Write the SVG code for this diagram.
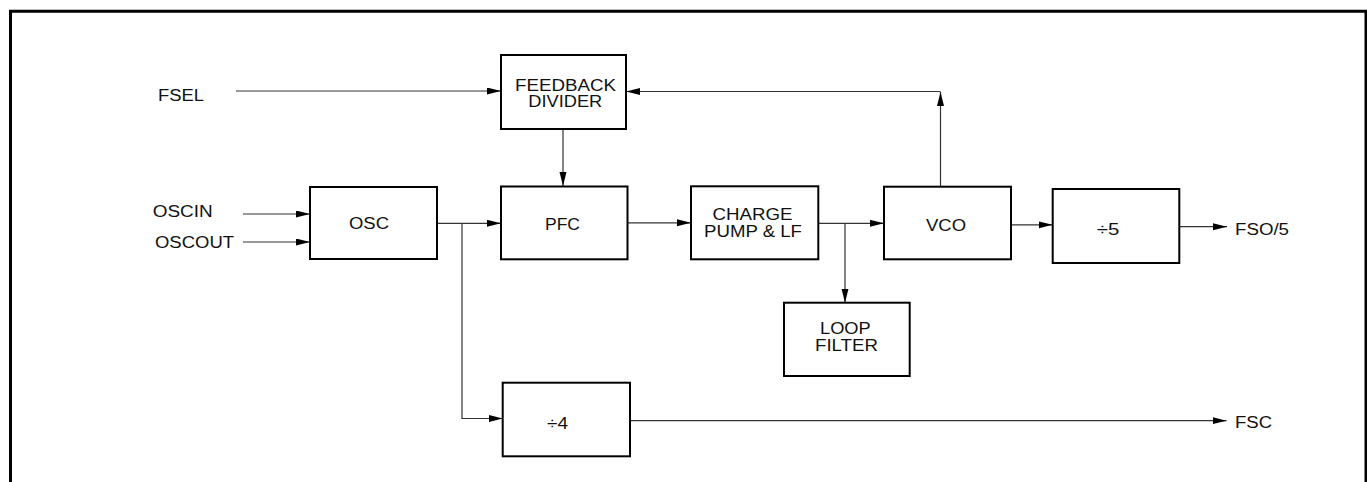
<svg xmlns="http://www.w3.org/2000/svg" width="1367" height="482" viewBox="0 0 1367 482">
<style>
.box{fill:#fff;stroke:#000;stroke-width:2}
.ln{fill:none;stroke:#333;stroke-width:1.2}
.t{font-family:"Liberation Sans",Arial,sans-serif;font-size:16px;fill:#111;lengthAdjust:spacingAndGlyphs}
.c{text-anchor:middle}
</style>
<defs>
<marker id="ah" markerUnits="userSpaceOnUse" markerWidth="15" markerHeight="8" refX="14" refY="3.5" orient="auto">
<path d="M0,0 L14,3.5 L0,7 z" fill="#000"/>
</marker>
</defs>
<rect width="1367" height="482" fill="#fff"/>
<path id="frame" d="M10.5,490 V11.3 H1366 V490" fill="none" stroke="#000" stroke-width="3"/>

<g id="connectors">
<path class="ln" d="M236,91 H501" marker-end="url(#ah)"/>
<path class="ln" d="M940.5,187 V92" marker-end="url(#ah)"/>
<path class="ln" d="M940.5,91.5 H626" marker-end="url(#ah)"/>
<path class="ln" d="M563,129 V186" marker-end="url(#ah)"/>
<path class="ln" d="M243,214 H310" marker-end="url(#ah)"/>
<path class="ln" d="M243,242 H310" marker-end="url(#ah)"/>
<path class="ln" d="M437,223.3 H501" marker-end="url(#ah)"/>
<path class="ln" d="M462,223.3 V418.5 H502.7" marker-end="url(#ah)"/>
<path class="ln" d="M627,222.8 H691" marker-end="url(#ah)"/>
<path class="ln" d="M818,223.3 H884" marker-end="url(#ah)"/>
<path class="ln" d="M845,223.3 V302.7" marker-end="url(#ah)"/>
<path class="ln" d="M1011,224.8 H1052.5" marker-end="url(#ah)"/>
<path class="ln" d="M1179.5,226.7 H1227" marker-end="url(#ah)"/>
<path class="ln" d="M630,420.7 H1226.5" marker-end="url(#ah)"/>
</g>

<g id="labels">
<text class="t" x="158" y="100.7" textLength="46" lengthAdjust="spacingAndGlyphs">FSEL</text>
<text class="t" x="152.7" y="217.3" textLength="60" lengthAdjust="spacingAndGlyphs">OSCIN</text>
<text class="t" x="155" y="247.7" textLength="79" lengthAdjust="spacingAndGlyphs">OSCOUT</text>
<text class="t" x="1235" y="235" textLength="54" lengthAdjust="spacingAndGlyphs">FSO/5</text>
<text class="t" x="1235" y="428" textLength="37" lengthAdjust="spacingAndGlyphs">FSC</text>
</g>

<g id="feedback-divider">
<rect class="box" x="501" y="55" width="125" height="74"/>
<text class="t" x="515" y="91" textLength="101" lengthAdjust="spacingAndGlyphs">FEEDBACK</text>
<text class="t" x="528.3" y="107" textLength="74" lengthAdjust="spacingAndGlyphs">DIVIDER</text>
</g>
<g id="osc">
<rect class="box" x="310" y="187" width="127" height="72"/>
<text class="t" x="349" y="229.3" textLength="40" lengthAdjust="spacingAndGlyphs">OSC</text>
</g>
<g id="pfc">
<rect class="box" x="501" y="186.5" width="126.5" height="72.8"/>
<text class="t" x="545" y="229.5" textLength="35" lengthAdjust="spacingAndGlyphs">PFC</text>
</g>
<g id="charge-pump">
<rect class="box" x="691" y="186.3" width="127.3" height="73"/>
<text class="t" x="712.6" y="219.8" textLength="80" lengthAdjust="spacingAndGlyphs">CHARGE</text>
<text class="t" x="704" y="236.8" textLength="98" lengthAdjust="spacingAndGlyphs">PUMP &amp; LF</text>
</g>
<g id="vco">
<rect class="box" x="884" y="186.7" width="127" height="72.6"/>
<text class="t" x="926" y="230.6" textLength="40" lengthAdjust="spacingAndGlyphs">VCO</text>
</g>
<g id="div5">
<rect class="box" x="1052.7" y="189" width="126.6" height="74"/>
<text class="t" x="1096.7" y="235" textLength="22.6" lengthAdjust="spacingAndGlyphs">÷5</text>
</g>
<g id="loop-filter">
<rect class="box" x="784" y="302.7" width="125.7" height="73.3"/>
<text class="t" x="820" y="334.3" textLength="50.7" lengthAdjust="spacingAndGlyphs">LOOP</text>
<text class="t" x="815" y="351" textLength="63" lengthAdjust="spacingAndGlyphs">FILTER</text>
</g>
<g id="div4">
<rect class="box" x="502.7" y="382.7" width="127.3" height="73.6"/>
<text class="t" x="547" y="429" textLength="21" lengthAdjust="spacingAndGlyphs">÷4</text>
</g>
</svg>
